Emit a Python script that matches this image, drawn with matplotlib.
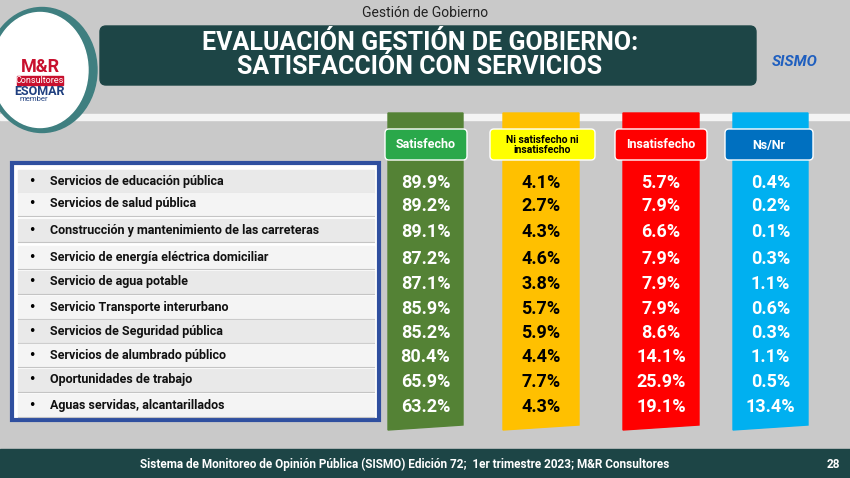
import matplotlib
matplotlib.use("Agg")
import matplotlib.pyplot as plt
from matplotlib.patches import Rectangle, FancyBboxPatch, Polygon, Ellipse

items = ["Servicios de educación pública", "Servicios de salud pública",
         "Construcción y mantenimiento de las carreteras",
         "Servicio de energía eléctrica domiciliar", "Servicio de agua potable",
         "Servicio Transporte interurbano", "Servicios de Seguridad pública",
         "Servicios de alumbrado público", "Oportunidades de trabajo",
         "Aguas servidas, alcantarillados"]
satisfecho = [89.9, 89.2, 89.1, 87.2, 87.1, 85.9, 85.2, 80.4, 65.9, 63.2]
ni_ni = [4.1, 2.7, 4.3, 4.6, 3.8, 5.7, 5.9, 4.4, 7.7, 4.3]
insatisfecho = [5.7, 7.9, 6.6, 7.9, 7.9, 7.9, 8.6, 14.1, 25.9, 19.1]
nsnr = [0.4, 0.2, 0.1, 0.3, 1.1, 0.6, 0.3, 1.1, 0.5, 13.4]
headers = ["Satisfecho", "Ni satisfecho ni\ninsatisfecho", "Insatisfecho", "Ns/Nr"]

FONT = ["Liberation Sans Narrow", "Roboto", "DejaVu Sans"]
fig = plt.figure(figsize=(8.5, 4.78), dpi=100)
fig.patch.set_facecolor("#c9c9c9")
ax = fig.add_axes([0, 0, 1, 1])
ax.set_xlim(0, 850); ax.set_ylim(478, 0); ax.axis("off")
ax.add_patch(Rectangle((0, 0), 850, 478, color="#c9c9c9", zorder=0))

ax.add_patch(Rectangle((0, 114), 850, 6, color="#f4f4f4", zorder=1))

ax.text(425, 13, "Gestión de Gobierno", ha="center", va="center", fontsize=10, family=FONT, color="#222")
ax.add_patch(FancyBboxPatch((100, 26), 656, 59, boxstyle="round,pad=0,rounding_size=6",
                            color="#1d4546", zorder=2))
ax.text(420, 55, "EVALUACIÓN GESTIÓN DE GOBIERNO:\nSATISFACCIÓN CON SERVICIOS", ha="center", va="center",
        fontsize=18, weight="bold", color="white", family=FONT, linespacing=1.0, zorder=3)
ax.add_patch(Ellipse((42, 70), 110, 125, color="#3f7f80", zorder=3))
ax.add_patch(Ellipse((40, 70), 96, 115, color="white", zorder=4))
ax.text(40, 67, "M&R", ha="center", va="center", fontsize=13, weight="bold", color="#c8102e", family=FONT, zorder=5)
ax.add_patch(Rectangle((17, 76), 46, 9, color="#c8102e", zorder=5))
ax.text(40, 80.5, "Consultores", ha="center", va="center", fontsize=6.5, color="white", family=FONT, zorder=6)
ax.text(40, 91, "ESOMAR", ha="center", va="center", fontsize=9, weight="bold", color="#1f3f7f", family=FONT, zorder=5)
ax.text(20, 99, "member", ha="left", va="center", fontsize=5.5, color="#1f3f7f", family=FONT, zorder=5)
ax.text(795, 62, "SISMO", ha="center", va="center", fontsize=11, weight="bold", style="italic",
        color="#1f5fbf", family=FONT, zorder=5)

ax.add_patch(Rectangle((12, 163), 367, 257, facecolor="white", edgecolor="#2f4f9f", lw=3, zorder=2))
rows_y = [181, 204, 230, 257, 282, 307, 331, 355, 380, 405]
for i, (y, t) in enumerate(zip(rows_y, items)):
    ax.add_patch(Rectangle((18, y - 11), 356, 22, color="#f4f4f4" if i % 2 else "#e9e9e9", zorder=3))
    ax.plot([18, 374], [y + 12, y + 12], color="#c4c4c4", lw=0.8, zorder=3)
    ax.text(32, y, "•", ha="center", va="center", fontsize=9, zorder=4)
    ax.text(50, y, t, ha="left", va="center", fontsize=9, weight="bold", family=FONT, color="#111", zorder=4)

cols = [(388, 463, "#548235", "#2aa84a", "white", satisfecho, "white"),
        (503, 579, "#ffc000", "#ffff00", "black", ni_ni, "black"),
        (623, 699, "#ff0000", "#ff0000", "white", insatisfecho, "white"),
        (733, 808, "#00b0f0", "#0070c0", "white", nsnr, "white")]
hx = [(385, 467), (490, 595), (615, 707), (725, 813)]
for (x0, x1, cc, hc, htc, vals, vc), (h0, h1), hd in zip(cols, hx, headers):
    ax.add_patch(Polygon([(x0, 113), (x1, 113), (x1, 425), (x0, 430)], color=cc, zorder=2))
    ax.add_patch(FancyBboxPatch((h0, 129), h1 - h0, 31, boxstyle="round,pad=0,rounding_size=4",
                                facecolor=hc, edgecolor="white", lw=1, zorder=3))
    ax.text((h0 + h1) / 2, 145, hd, ha="center", va="center", fontsize=9 if "\n" not in hd else 7.5,
            weight="bold", color=htc, family=FONT, linespacing=1.1, zorder=4)
    for y, v in zip(rows_y, vals):
        ax.text((x0 + x1) / 2, y + 2, f"{v:.1f}%", ha="center", va="center", fontsize=13,
                weight="bold", color=vc, family=FONT, zorder=4)

ax.add_patch(Rectangle((0, 449), 850, 29, color="#1d4546", zorder=2))
ax.text(405, 464, "Sistema de Monitoreo de Opinión Pública (SISMO) Edición 72;  1er trimestre 2023; M&R Consultores",
        ha="center", va="center", fontsize=8.5, weight="bold", color="white", family=FONT, zorder=3)
ax.text(833, 464, "28", ha="center", va="center", fontsize=8.5, weight="bold", color="white", family=FONT, zorder=3)

fig.savefig("out.png", dpi=100, facecolor=fig.get_facecolor())
